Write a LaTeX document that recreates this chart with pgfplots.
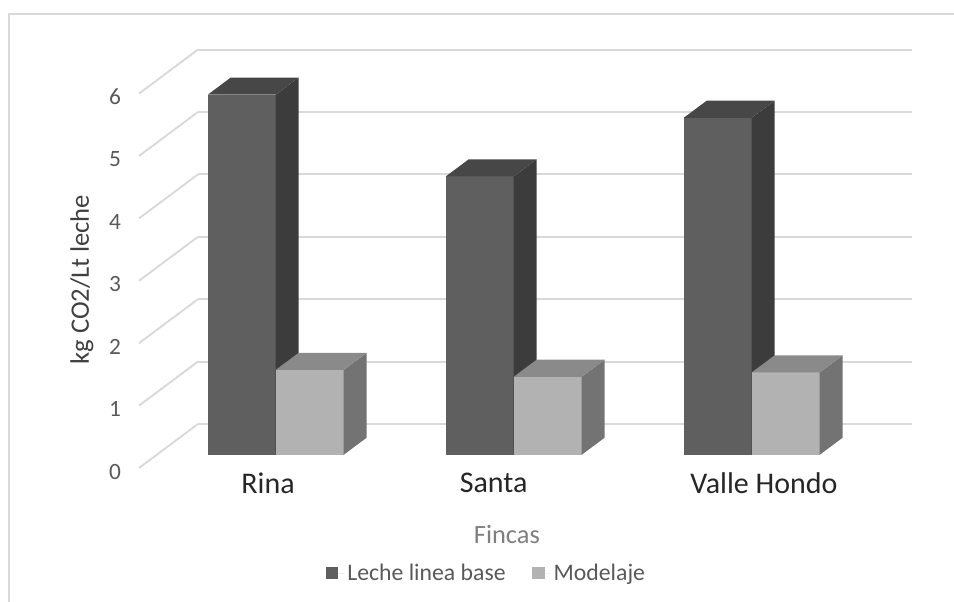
\documentclass[border=0pt]{standalone}
\usepackage{fontspec}
\setmainfont{Carlito}
\usepackage{pgfplots}
\pgfplotsset{compat=1.18}
\usetikzlibrary{calc}

\definecolor{darkF}{HTML}{5F5F5F}
\definecolor{darkT}{HTML}{474747}
\definecolor{darkS}{HTML}{3C3C3C}
\definecolor{lightF}{HTML}{B2B2B2}
\definecolor{lightT}{HTML}{8A8A8A}
\definecolor{lightS}{HTML}{737373}
\definecolor{gridc}{HTML}{D9D9D9}
\definecolor{tickc}{HTML}{595959}
\definecolor{catc}{HTML}{262626}
\definecolor{titc}{HTML}{7F7F7F}
\definecolor{ylabc}{HTML}{404040}

\begin{document}
\begin{tikzpicture}
\begin{axis}[
  x={(178.5pt,0pt)}, y={(44.25pt,33pt)}, z={(0pt,46.8pt)},
  xmin=-0.5, xmax=2.5, ymin=0, ymax=1, zmin=0, zmax=6,
  clip=false,
  axis line style={draw=none},
  major tick length=0pt,
  xtick={0.042,0.99,2.126},
  xticklabels={Rina,Santa,Valle Hondo},
  ytick=\empty,
  ztick={0,1,...,6},
  zmajorgrids,
  grid style={gridc, line width=1.4pt},
  /pgf/number format/assume math mode=true,
  xticklabel style={font=\fontsize{22.5}{26}\selectfont, text=catc, anchor=north},
  zticklabel style={font=\fontsize{17.5}{20}\selectfont, text=tickc, xshift=-10pt},
  xlabel={Fincas},
  every axis x label/.style={at={(axis description cs:0.476,-0.16)}, anchor=center,
    font=\fontsize{19.8}{23}\selectfont, text=titc},
  zlabel={kg CO2/Lt leche},
  every axis z label/.style={at={(axis description cs:-0.074,0.45)}, rotate=90, anchor=center,
    font=\fontsize{20}{23}\selectfont, text=ylabc},
  legend style={at={(axis description cs:0.45,-0.251)}, anchor=center, draw=none, fill=none,
    legend columns=2, font=\fontsize{17.8}{20}\selectfont, text=tickc,
    /tikz/every even column/.append style={column sep=18pt}},
  legend image code/.code={\fill[#1] (0pt,-4.6pt) rectangle (9.2pt,4.6pt); \path (0pt,0pt) -- (14pt,0pt);},
]
\coordinate (O) at (axis cs:-0.5,0,0);

% Rina
\addplot3[forget plot, fill=darkF, draw=none] coordinates {(-0.2857,0.3,0) (0,0.3,0) (0,0.3,5.77) (-0.2857,0.3,5.77)} -- cycle;
\addplot3[forget plot, fill=darkS, draw=none] coordinates {(0,0.3,0) (0,0.69,0) (0,0.69,5.77) (0,0.3,5.77)} -- cycle;
\addplot3[forget plot, fill=darkT, draw=none] coordinates {(-0.2857,0.3,5.77) (0,0.3,5.77) (0,0.69,5.77) (-0.2857,0.69,5.77)} -- cycle;
\addplot3[forget plot, fill=lightF, draw=none] coordinates {(0,0.3,0) (0.2857,0.3,0) (0.2857,0.3,1.36) (0,0.3,1.36)} -- cycle;
\addplot3[forget plot, fill=lightS, draw=none] coordinates {(0.2857,0.3,0) (0.2857,0.69,0) (0.2857,0.69,1.36) (0.2857,0.3,1.36)} -- cycle;
\addplot3[forget plot, fill=lightT, draw=none] coordinates {(0,0.3,1.36) (0.2857,0.3,1.36) (0.2857,0.69,1.36) (0,0.69,1.36)} -- cycle;

% Santa
\addplot3[forget plot, fill=darkF, draw=none] coordinates {(0.7143,0.3,0) (1,0.3,0) (1,0.3,4.46) (0.7143,0.3,4.46)} -- cycle;
\addplot3[forget plot, fill=darkS, draw=none] coordinates {(1,0.3,0) (1,0.69,0) (1,0.69,4.46) (1,0.3,4.46)} -- cycle;
\addplot3[forget plot, fill=darkT, draw=none] coordinates {(0.7143,0.3,4.46) (1,0.3,4.46) (1,0.69,4.46) (0.7143,0.69,4.46)} -- cycle;
\addplot3[forget plot, fill=lightF, draw=none] coordinates {(1,0.3,0) (1.2857,0.3,0) (1.2857,0.3,1.25) (1,0.3,1.25)} -- cycle;
\addplot3[forget plot, fill=lightS, draw=none] coordinates {(1.2857,0.3,0) (1.2857,0.69,0) (1.2857,0.69,1.25) (1.2857,0.3,1.25)} -- cycle;
\addplot3[forget plot, fill=lightT, draw=none] coordinates {(1,0.3,1.25) (1.2857,0.3,1.25) (1.2857,0.69,1.25) (1,0.69,1.25)} -- cycle;

% Valle Hondo
\addplot3[forget plot, fill=darkF, draw=none] coordinates {(1.7143,0.3,0) (2,0.3,0) (2,0.3,5.40) (1.7143,0.3,5.40)} -- cycle;
\addplot3[forget plot, fill=darkS, draw=none] coordinates {(2,0.3,0) (2,0.69,0) (2,0.69,5.40) (2,0.3,5.40)} -- cycle;
\addplot3[forget plot, fill=darkT, draw=none] coordinates {(1.7143,0.3,5.40) (2,0.3,5.40) (2,0.69,5.40) (1.7143,0.69,5.40)} -- cycle;
\addplot3[forget plot, fill=lightF, draw=none] coordinates {(2,0.3,0) (2.2857,0.3,0) (2.2857,0.3,1.32) (2,0.3,1.32)} -- cycle;
\addplot3[forget plot, fill=lightS, draw=none] coordinates {(2.2857,0.3,0) (2.2857,0.69,0) (2.2857,0.69,1.32) (2.2857,0.3,1.32)} -- cycle;
\addplot3[forget plot, fill=lightT, draw=none] coordinates {(2,0.3,1.32) (2.2857,0.3,1.32) (2.2857,0.69,1.32) (2,0.69,1.32)} -- cycle;

\addlegendimage{fill=darkF, draw=none}
\addlegendentry{Leche linea base}
\addlegendimage{fill=lightF, draw=none}
\addlegendentry{Modelaje}
\end{axis}
\pgfresetboundingbox
\path[use as bounding box] ($(O)+(-104.25pt,-100.5pt)$) rectangle ++(715.5pt,451.5pt);
\draw[gridc, line width=1.2pt] ($(O)+(-97.5pt,-120pt)$) -- ($(O)+(-97.5pt,340.5pt)$) -- ($(O)+(640pt,340.5pt)$);
\end{tikzpicture}
\end{document}
